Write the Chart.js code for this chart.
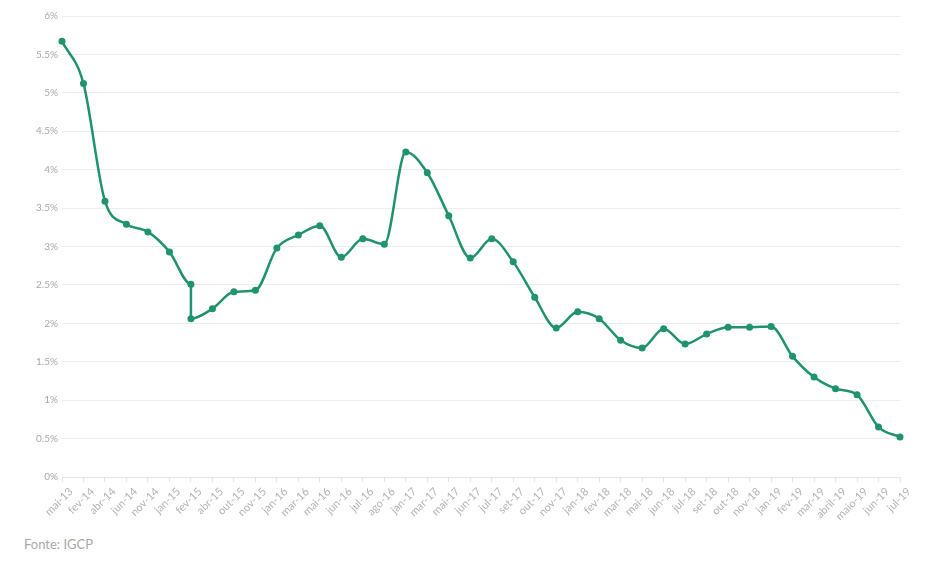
<!DOCTYPE html>
<html>
<head>
<meta charset="utf-8">
<script src="https://cdn.jsdelivr.net/npm/chart.js@4"></script>
<style>
  html, body { margin: 0; padding: 0; background: #fff; }
  #wrap { position: absolute; left: 0; top: 0; width: 935px; height: 530px; }
  #source { position: absolute; left: 24px; top: 536px; font-family: Lato, sans-serif; font-size: 13px; color: #a8a8a8; }
</style>
</head>
<body>
<div id="wrap"><canvas id="yieldChart"></canvas></div>
<div id="source">Fonte: IGCP</div>
<script>
// Tick labels along the x axis
const tickLabels = ["mai-13", "fev-14", "abr-14", "jun-14", "nov-14", "jan-15", "fev-15", "abr-15", "out-15", "nov-15",
  "jan-16", "mar-16", "mai-16", "jun-16", "jul-16", "ago-16", "jan-17", "mar-17", "mai-17", "jun-17",
  "jul-17", "set-17", "out-17", "nov-17", "jan-18", "fev-18", "mar-18", "mai-18", "jun-18", "jul-18",
  "set-18", "out-18", "nov-18", "jan-19", "fev-19", "mar-19", "abril-19", "maio-19", "jun-19", "jul-19"];

// Each point's month (fev-15 holds two values)
const pointMonths = ["mai-13", "fev-14", "abr-14", "jun-14", "nov-14", "jan-15", "fev-15", "fev-15", "abr-15", "out-15", "nov-15",
  "jan-16", "mar-16", "mai-16", "jun-16", "jul-16", "ago-16", "jan-17", "mar-17", "mai-17", "jun-17",
  "jul-17", "set-17", "out-17", "nov-17", "jan-18", "fev-18", "mar-18", "mai-18", "jun-18", "jul-18",
  "set-18", "out-18", "nov-18", "jan-19", "fev-19", "mar-19", "abril-19", "maio-19", "jun-19", "jul-19"];

// Rate (%) at each point
const rates = [5.67, 5.12, 3.59, 3.29, 3.19, 2.93, 2.51, 2.06, 2.19, 2.41, 2.43,
  2.98, 3.15, 3.27, 2.86, 3.10, 3.03, 4.23, 3.96, 3.40, 2.85,
  3.10, 2.80, 2.34, 1.94, 2.15, 2.06, 1.78, 1.68, 1.93, 1.73,
  1.86, 1.95, 1.95, 1.96, 1.57, 1.30, 1.15, 1.07, 0.65, 0.52];

const lineColor = "#1f926f";

function initChart() {
  const ctx = document.getElementById("yieldChart").getContext("2d");
  new Chart(ctx, {
    type: "line",
    data: {
      labels: tickLabels,
      datasets: [{
        data: pointMonths.map((m, i) => ({ x: m, y: rates[i] })),
        borderColor: lineColor,
        backgroundColor: lineColor,
        borderWidth: 2.5,
        pointRadius: 3.5,
        pointBorderWidth: 0,
        pointBackgroundColor: lineColor,
        cubicInterpolationMode: "monotone",
        fill: false
      }]
    },
    options: {
      responsive: true,
      maintainAspectRatio: false,
      animation: false,
      layout: { padding: { left: 0, right: 35, top: 16, bottom: 0 } },
      plugins: {
        legend: { display: false },
        tooltip: { enabled: false }
      },
      scales: {
        x: {
          type: "category",
          offset: false,
          grid: { drawOnChartArea: false, drawTicks: true, tickLength: 5, color: "#e6e6e6" },
          border: { color: "#e6e6e6" },
          ticks: {
            autoSkip: false,
            minRotation: 45,
            maxRotation: 45,
            padding: 3,
            labelOffset: 9,
            color: "#b4b4b4",
            font: { family: "Lato", size: 11 }
          },
          afterFit: s => { s.height = 53; }
        },
        y: {
          min: 0,
          max: 6,
          grid: { color: "#ececec", drawTicks: false },
          border: { display: false },
          ticks: {
            stepSize: 0.5,
            padding: 4,
            color: "#a8a8a8",
            font: { family: "Lato", size: 10 },
            callback: v => v + "%"
          },
          afterFit: s => { s.width = 62; }
        }
      }
    }
  });
}

initChart();
</script>
</body>
</html>
